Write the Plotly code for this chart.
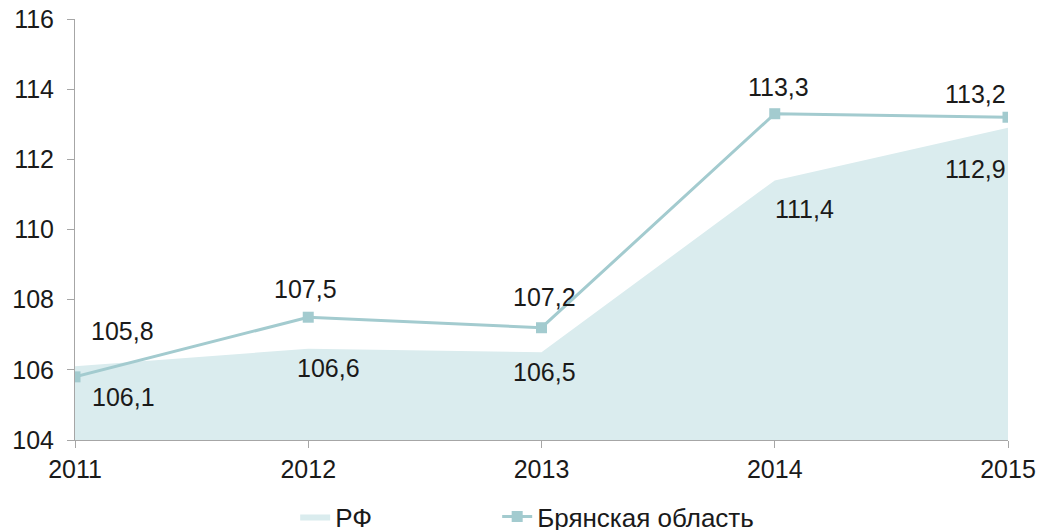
import plotly.graph_objects as go

years = ["2011", "2012", "2013", "2014", "2015"]
rf = [106.1, 106.6, 106.5, 111.4, 112.9]
bryansk = [105.8, 107.5, 107.2, 113.3, 113.2]
rf_labels = ["106,1", "106,6", "106,5", "111,4", "112,9"]
br_labels = ["105,8", "107,5", "107,2", "113,3", "113,2"]

xs = list(range(len(years)))
FONT = "Liberation Sans, Arial, sans-serif"
FILL = "#daecee"
LINE = "#a3cbcf"
TXT = "#1a1a1a"

fig = go.Figure()
fig.add_trace(go.Scatter(x=xs, y=rf, name="РФ", mode="lines", fill="tozeroy",
                         fillcolor=FILL, line=dict(width=0, color=FILL), legend="legend"))
fig.add_trace(go.Scatter(x=xs, y=bryansk, name="Брянская область", mode="lines+markers",
                         line=dict(color=LINE, width=3),
                         marker=dict(symbol="square", size=11, color=LINE), legend="legend2"))

# label offsets (pixels)
br_off = [(47, 46), (-3, 28), (3, 31), (4, 27), (-33, 23)]
rf_off = [(48, -31), (20, -19), (3, -20), (30, -29), (-33, -41)]
for i in xs:
    dx, dy = br_off[i]
    fig.add_annotation(x=xs[i], y=bryansk[i], text=br_labels[i], showarrow=False,
                       xshift=dx, yshift=dy, font=dict(size=25, color=TXT, family=FONT))
    dx, dy = rf_off[i]
    fig.add_annotation(x=xs[i], y=rf[i], text=rf_labels[i], showarrow=False,
                       xshift=dx, yshift=dy, font=dict(size=25, color=TXT, family=FONT))

legend_common = dict(orientation="h", xanchor="left", y=-0.126, yanchor="top",
                     font=dict(size=26, family=FONT, color=TXT), itemwidth=30,
                     bgcolor="rgba(0,0,0,0)")

fig.update_layout(
    width=1037, height=522,
    margin=dict(l=67, r=37, t=11, b=90, autoexpand=False),
    paper_bgcolor="white", plot_bgcolor="white",
    font=dict(family=FONT, size=25, color=TXT),
    showlegend=True,
    legend=dict(x=0.236, **legend_common),
    legend2=dict(x=0.4525, **legend_common),
    xaxis=dict(range=[0, 4], tickmode="array", tickvals=xs, ticktext=years,
               showgrid=False, zeroline=False, showline=True, linecolor="#a6a6a6",
               linewidth=1, ticks="outside", ticklen=7, tickcolor="#a6a6a6",
               tickfont=dict(size=25), automargin=False, ticklabeloverflow="allow"),
    yaxis=dict(range=[104, 116], dtick=2, tick0=104, showgrid=False, zeroline=False,
               showline=True, linecolor="#a6a6a6", linewidth=1, ticks="outside",
               ticklen=7, tickcolor="#a6a6a6", tickfont=dict(size=25), automargin=False,
               ticklabeloverflow="allow", ticklabelstandoff=8),
)

fig.write_html("out.html")
